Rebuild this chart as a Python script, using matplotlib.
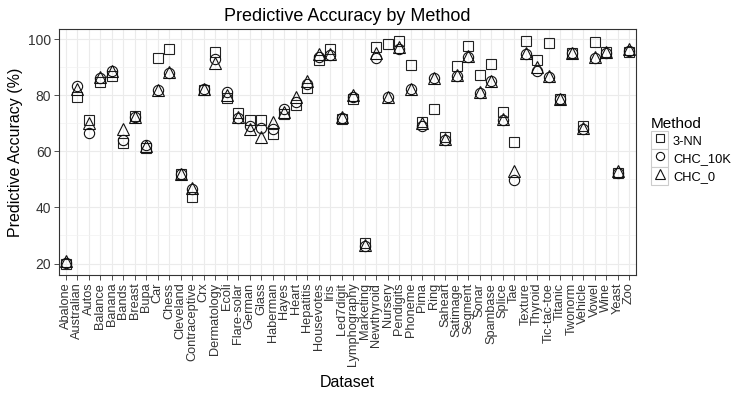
import numpy as np
import matplotlib.pyplot as plt
from matplotlib.ticker import MultipleLocator
from matplotlib.legend_handler import HandlerLine2D
from matplotlib.patches import Rectangle

plt.rcParams['font.family'] = ['Liberation Sans', 'DejaVu Sans']

datasets = ["Abalone", "Australian", "Autos", "Balance", "Banana", "Bands", "Breast", "Bupa",
            "Car", "Chess", "Cleveland", "Contraceptive", "Crx", "Dermatology", "Ecoli",
            "Flare-solar", "German", "Glass", "Haberman", "Hayes", "Heart", "Hepatitis",
            "Housevotes", "Iris", "Led7digit", "Lymphography", "Marketing", "Newthyroid",
            "Nursery", "Pendigits", "Phoneme", "Pima", "Ring", "Saheart", "Satimage",
            "Segment", "Sonar", "Spambase", "Splice", "Tae", "Texture", "Thyroid",
            "Tic-tac-toe", "Titanic", "Twonorm", "Vehicle", "Vowel", "Wine", "Yeast", "Zoo"]

knn = [19.8, 79.4, 71.0, 84.6, 87.0, 63.0, 72.6, 61.3, 93.4, 96.4,
       51.8, 43.6, 81.7, 95.5, 79.0, 73.5, 71.0, 71.0, 66.1, 73.2,
       76.5, 82.5, 92.5, 96.4, 71.6, 78.6, 27.4, 97.3, 98.4, 99.5,
       90.8, 70.6, 75.2, 65.0, 90.3, 97.4, 87.2, 91.1, 73.9, 63.2,
       99.3, 92.6, 98.5, 78.6, 95.0, 68.9, 99.1, 95.3, 52.3, 95.4]

chc_10k = [20.3, 83.3, 66.7, 86.0, 88.5, 64.2, 72.3, 62.4, 81.8, 88.0,
           52.0, 46.5, 82.3, 92.8, 81.2, 72.0, 68.9, 68.3, 68.0, 75.2,
           77.7, 84.0, 93.8, 94.4, 72.0, 79.4, 26.2, 93.4, 79.2, 96.6,
           82.2, 69.1, 86.0, 64.2, 86.9, 93.8, 80.8, 85.0, 71.2, 49.7,
           94.7, 88.7, 86.6, 78.5, 95.0, 68.0, 93.4, 95.1, 52.2, 95.8]

chc_0 = [20.8, 82.2, 70.0, 86.4, 88.8, 68.0, 72.3, 61.8, 81.8, 88.3,
         52.0, 46.9, 82.4, 91.6, 80.0, 72.2, 67.8, 65.2, 70.3, 74.0,
         79.3, 85.0, 94.6, 94.7, 72.3, 80.0, 26.6, 95.0, 79.3, 97.2,
         82.4, 70.0, 86.3, 64.5, 87.1, 94.1, 81.0, 85.0, 71.5, 53.0,
         95.0, 90.0, 86.8, 78.8, 95.2, 68.4, 93.6, 95.4, 53.0, 96.6]


# legend key with the grey box around it, like ggplot
class BoxedKey(HandlerLine2D):
    def create_artists(self, legend, orig_handle, xdescent, ydescent, width, height, fontsize, trans):
        arts = super().create_artists(legend, orig_handle, xdescent, ydescent, width, height, fontsize, trans)
        box = Rectangle((-xdescent, -ydescent), width, height, fc='white', ec='#CCCCCC', lw=0.8,
                        transform=trans)
        return [box] + list(arts)


fig = plt.figure(figsize=(7.39, 3.98), dpi=100)
ax = fig.add_axes([0.0798, 0.309, 0.7808, 0.618])

x = np.arange(1, len(datasets) + 1)
ax.plot(x, knn, ls='none', marker='s', ms=7.4, mfc='none', mec='#222222', mew=0.8, label='3-NN')
ax.plot(x, chc_10k, ls='none', marker='o', ms=7.4, mfc='none', mec='#111111', mew=0.8, label='CHC_10K')
ax.plot(x, chc_0, ls='none', marker='^', ms=8.4, mfc='none', mec='#111111', mew=0.8, label='CHC_0')

ax.set_xlim(0.4, len(datasets) + 0.6)
ax.set_ylim(15.9, 103.6)
ax.set_xticks(x)
ax.set_xticklabels(datasets, rotation=90, fontsize=9.2, color='#333333')
ax.yaxis.set_major_locator(MultipleLocator(20))
ax.yaxis.set_minor_locator(MultipleLocator(10))
ax.tick_params(axis='y', labelsize=10, labelcolor='#333333')
ax.tick_params(which='major', length=3.5, color='#333333', width=0.6, pad=2)
ax.tick_params(which='minor', length=0)

ax.grid(which='major', color='#EBEBEB', lw=0.8)
ax.grid(which='minor', color='#F2F2F2', lw=0.5)
ax.set_axisbelow(True)
for s in ax.spines.values():
    s.set_color('#333333')
    s.set_linewidth(0.8)

ax.set_xlabel('Dataset', fontsize=11.5, labelpad=6)
ax.set_ylabel('Predictive Accuracy (%)', fontsize=11.5, labelpad=4)
ax.set_title('Predictive Accuracy by Method', fontsize=13, pad=6)

handles, labels = ax.get_legend_handles_labels()
leg = fig.legend(handles, labels, loc='center left', bbox_to_anchor=(0.874, 0.62), title='Method',
                 fontsize=9.3, title_fontsize=11, frameon=False, handlelength=1.35,
                 handleheight=1.75, handletextpad=0.35, labelspacing=0.0, borderaxespad=0,
                 markerscale=0.8, handler_map={h: BoxedKey() for h in handles})
leg._legend_box.align = 'left'

fig.savefig('out.png', dpi=100)
